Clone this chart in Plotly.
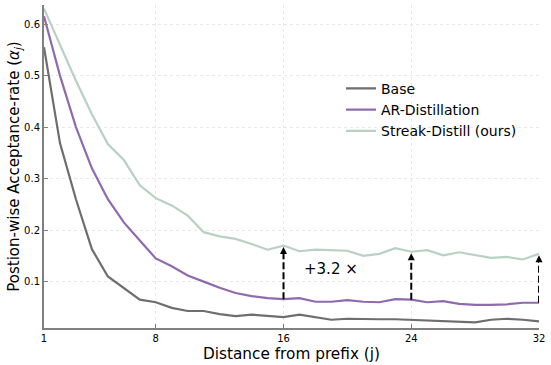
import plotly.graph_objects as go

# distance from prefix (j)
positions = list(range(1, 33))

base = [0.555, 0.369, 0.26, 0.163, 0.110, 0.088, 0.065, 0.060, 0.049, 0.043,
        0.043, 0.037, 0.033, 0.036, 0.033, 0.031, 0.036, 0.031, 0.026, 0.028,
        0.027, 0.027, 0.027, 0.026, 0.024, 0.023, 0.023, 0.021, 0.026, 0.028,
        0.026, 0.023]
ar_distill = [0.615, 0.50, 0.40, 0.32, 0.26, 0.215, 0.18, 0.145, 0.13, 0.112,
              0.100, 0.088, 0.078, 0.072, 0.068, 0.066, 0.068, 0.061, 0.061, 0.064,
              0.061, 0.060, 0.066, 0.065, 0.060, 0.062, 0.057, 0.055, 0.055, 0.056,
              0.059, 0.059]
streak = [0.63, 0.56, 0.49, 0.425, 0.367, 0.336, 0.287, 0.262, 0.248, 0.228,
          0.196, 0.188, 0.183, 0.173, 0.162, 0.170, 0.159, 0.162, 0.161, 0.160,
          0.150, 0.154, 0.165, 0.158, 0.161, 0.151, 0.157, 0.152, 0.146, 0.148,
          0.143, 0.154]

series_names = ["Base", "AR-Distillation", "Streak-Distill (ours)"]
colors = ["#6e6e6e", "#8f6aae", "#b9d1c4"]

arrow_at = [16, 24, 32]
x_ticks = [1, 8, 16, 24, 32]
y_ticks = [0.1, 0.2, 0.3, 0.4, 0.5, 0.6]
gain_label = "+3.2 ×"

fig = go.Figure()
for name, ys, c in zip(series_names, [base, ar_distill, streak], colors):
    fig.add_trace(go.Scatter(x=positions, y=ys, mode="lines", name=name,
                             line=dict(color=c, width=2.2)))

# dashed improvement arrows: AR-Distillation -> Streak-Distill
for j in arrow_at:
    lo, hi = ar_distill[j - 1], streak[j - 1]
    fig.add_trace(go.Scatter(x=[j, j], y=[lo, hi - 0.008], mode="lines",
                             showlegend=False, hoverinfo="skip", cliponaxis=False,
                             line=dict(color="black", width=2, dash="7px,3px")))
    fig.add_trace(go.Scatter(x=[j], y=[hi - 0.003], mode="markers",
                             showlegend=False, hoverinfo="skip", cliponaxis=False,
                             marker=dict(symbol="arrow-up", size=7, color="black")))

fig.add_annotation(x=19.0, y=0.125, text=gain_label, showarrow=False,
                   font=dict(size=15, color="black"))

axis_common = dict(showline=True, linecolor="#808080", linewidth=2,
                   showgrid=True, gridcolor="#e8e8e8", griddash="dot", gridwidth=1,
                   ticks="inside", ticklen=4, tickcolor="#808080",
                   zeroline=False, tickfont=dict(size=10, color="black"))

fig.update_xaxes(range=[1, 32], tickvals=x_ticks,
                 title=dict(text="Distance from prefix (j)", font=dict(size=15.3),
                            standoff=5), **axis_common)
fig.update_yaxes(range=[0.01, 0.637], tickvals=y_ticks,
                 title=dict(text="Postion-wise Acceptance-rate (<i>α<sub>j</sub></i>)",
                            font=dict(size=15), standoff=1), **axis_common)

fig.update_layout(
    width=551, height=365,
    margin=dict(l=44, r=12, t=5, b=37),
    plot_bgcolor="white", paper_bgcolor="white",
    font=dict(family="DejaVu Sans", color="black"),
    legend=dict(x=0.60, y=0.79, xanchor="left", yanchor="top",
                font=dict(size=14), bgcolor="rgba(0,0,0,0)",
                tracegroupgap=0, itemwidth=30),
)

fig.write_html("out.html", config={"displayModeBar": False},
               post_script="document.body.style.margin='0';")
